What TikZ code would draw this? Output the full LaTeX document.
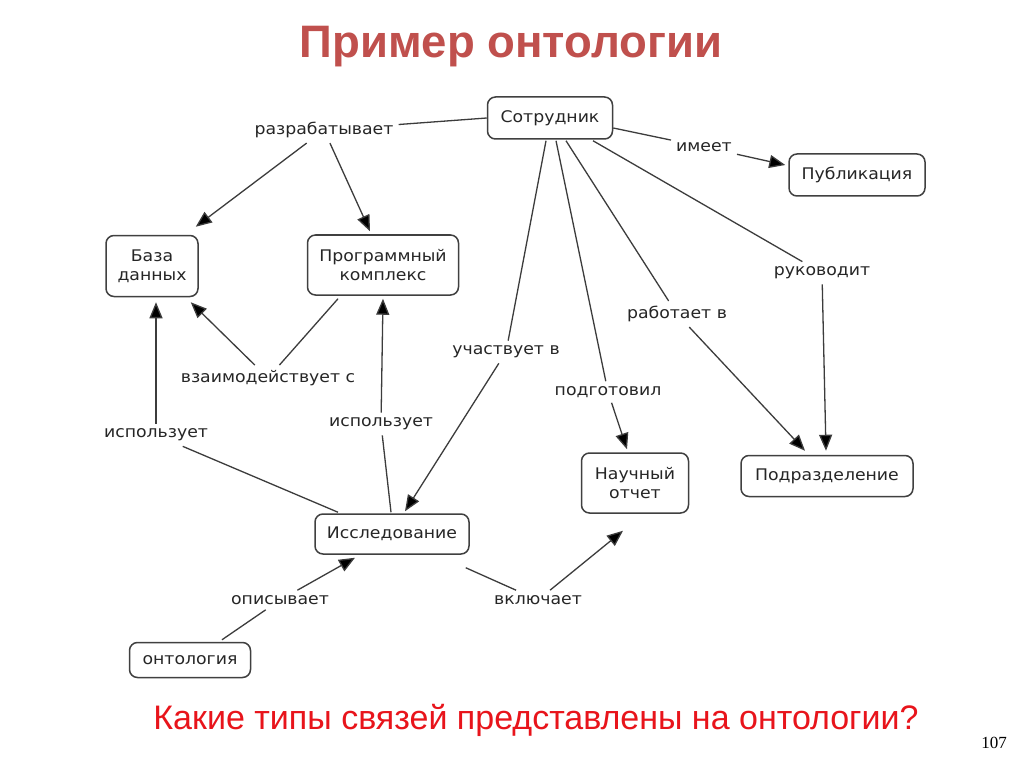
\documentclass[tikz,border=0pt]{standalone}
\usepackage{fontspec}
\setmainfont{DejaVu Sans}[FakeStretch=1.08]
\newfontfamily\arialfont{Liberation Sans}
\newfontfamily\timesfont{Liberation Serif}
\usetikzlibrary{arrows.meta,calc}
\definecolor{titlered}{HTML}{C0504D}
\definecolor{qred}{HTML}{E8141B}
\definecolor{boxline}{HTML}{404040}
\definecolor{edgeline}{HTML}{3C3C3C}
\begin{document}
\begin{tikzpicture}[x=1pt,y=-1pt,
  concept/.style={draw=boxline,line width=1.5pt,rounded corners=8pt,align=center,
    font=\fontsize{16}{19}\selectfont,inner sep=0pt,text=black!85},
  rel/.style={font=\fontsize{16}{19}\selectfont,inner sep=5pt,text=black!85},
  link/.style={draw=edgeline,line width=1.3pt},
  arr/.style={link,-{Triangle[length=16pt,width=13pt,fill=black]}}
]
\useasboundingbox[fill=white] (0,0) rectangle (1024,767);

% title and texts
\node[font=\arialfont\bfseries\fontsize{45.5}{52}\selectfont,text=titlered] (title) at (511,47) {Пример онтологии};
\node[font=\arialfont\fontsize{34}{40}\selectfont,text=qred] (quest) at (536,720) {Какие типы связей представлены на онтологии?};
\node[font=\timesfont\fontsize{17}{20}\selectfont] (pnum) at (994,743) {107};

% concepts
\node[concept,minimum width=125pt,minimum height=42pt] (sotr) at (550,118) {Сотрудник};
\node[concept,minimum width=136pt,minimum height=42pt] (publ) at (857,175) {Публикация};
\node[concept,minimum width=92pt,minimum height=61pt] (baza) at (152,266) {База\\данных};
\node[concept,minimum width=151pt,minimum height=60pt] (prog) at (383,265) {Программный\\комплекс};
\node[concept,minimum width=107pt,minimum height=60pt] (nauch) at (635,483) {Научный\\отчет};
\node[concept,minimum width=172pt,minimum height=41pt] (podr) at (827,476) {Подразделение};
\node[concept,minimum width=154pt,minimum height=40pt] (issl) at (392,534) {Исследование};
\node[concept,minimum width=121pt,minimum height=35pt] (onto) at (190,660) {онтология};

% relation labels
\node[rel] (razr) at (324,130) {разрабатывает};
\node[rel] (imeet) at (704,147) {имеет};
\node[rel] (ruk) at (822,273) {руководит};
\node[rel] (rab) at (677,314) {работает в};
\node[rel] (uch) at (506,352) {участвует в};
\node[rel] (podg) at (608,392) {подготовил};
\node[rel] (vzaim) at (268,378) {взаимодействует с};
\node[rel] (isp1) at (156,435) {использует};
\node[rel] (isp2) at (381,424) {использует};
\node[rel] (opis) at (280,600) {описывает};
\node[rel] (vkl) at (538,600) {включает};

% connectors
\draw[link] (sotr.west) -- (razr);
\draw[arr] (razr) -- ($(baza.north east)+(-3,-8)$);
\draw[arr] (razr) -- ($(prog.north)+(-13,-3)$);

\draw[link] ($(prog.south)+(-45,3)$) -- (vzaim);
\draw[arr] (vzaim) -- ($(baza.south east)+(-8,5)$);

\draw[link] ($(issl.north)+(-54,-1)$) -- (isp1);
\draw[arr] (isp1) -- ($(baza.south)+(4,5)$);

\draw[link] ($(issl.north)+(-1,-1)$) -- (isp2);
\draw[arr] (isp2) -- ($(prog.south)+(0,3)$);

\draw[link] ($(sotr.south)+(-4,1)$) -- (uch);
\draw[arr] (uch) -- ($(issl.north)+(13,-2)$);

\draw[link] ($(sotr.south)+(6,1)$) -- (podg);
\draw[arr] (podg) -- ($(nauch.north)+(-8,-3)$);

\draw[link] ($(sotr.south)+(16,1)$) -- (rab);
\draw[arr] (rab) -- ($(podr.north)+(-22,-4)$);

\draw[link] ($(sotr.south)+(43,1)$) -- (ruk);
\draw[arr] (ruk) -- ($(podr.north)+(-1,-4)$);

\draw[link] ($(sotr.east)+(0,10)$) -- (imeet);
\draw[arr] (imeet) -- ($(publ.west)+(-3,-10)$);

\draw[link] ($(onto.north)+(32,-2)$) -- (opis);
\draw[arr] (opis) -- ($(issl.south)+(-37,3)$);

\draw[link] ($(issl.south east)+(-4,13)$) -- (vkl);
\draw[arr] (vkl) -- ($(nauch.south)+(-12,17)$);
\end{tikzpicture}
\end{document}
